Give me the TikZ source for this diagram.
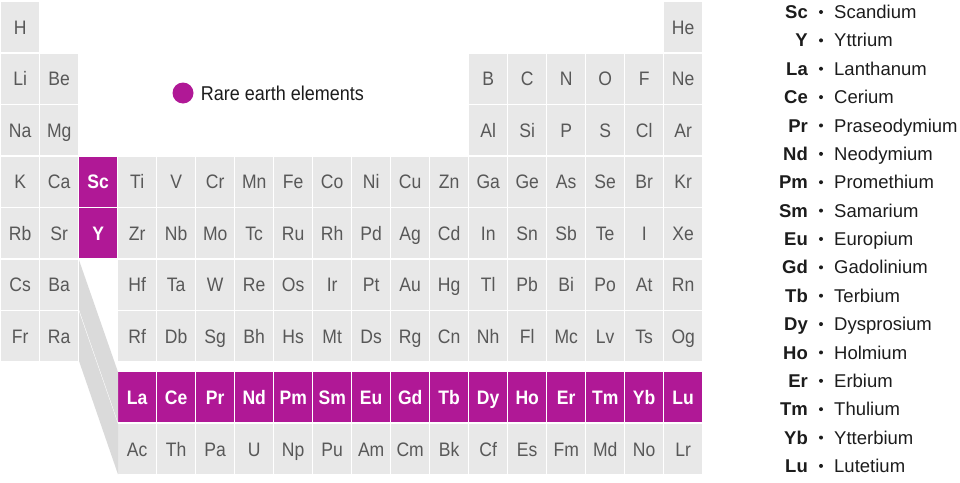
\documentclass[tikz,border=0pt]{standalone}
\usepackage{fontspec}
\setmainfont{Liberation Sans}[FakeStretch=0.9]
\newfontfamily\legfont{Liberation Sans}
\usetikzlibrary{positioning}

\definecolor{cellgray}{RGB}{232,232,232}
\definecolor{bandgray}{RGB}{218,218,218}
\definecolor{rare}{RGB}{176,24,150}
\definecolor{symgray}{RGB}{88,88,88}
\definecolor{ink}{RGB}{28,28,28}

\tikzstyle{elem} = [rectangle, anchor=north west, minimum width=38pt, minimum height=50pt, inner sep=0pt, text height=14pt, text depth=0pt, fill=cellgray, text=symgray, font=\fontsize{19.5}{20}\selectfont]
\tikzstyle{rareelem} = [elem, fill=rare, text=white, font=\fontsize{19.5}{20}\selectfont\bfseries]
\tikzstyle{band} = [fill=bandgray]
\tikzstyle{legsym} = [anchor=base east, inner sep=0pt, text=ink, font=\legfont\fontsize{18.5}{19}\selectfont\bfseries]
\tikzstyle{legdot} = [circle, fill=ink, inner sep=0pt, minimum size=4pt]
\tikzstyle{legname} = [anchor=base west, inner sep=0pt, text=ink, font=\legfont\fontsize{18.5}{19}\selectfont]

\begin{document}
\begin{tikzpicture}[x=1pt, y=-1pt]
\useasboundingbox (0,0) rectangle (960,482);

% Main table
\node (H) [elem] at (1,2) {H};
\node (He) [elem] at (664,2) {He};
\foreach \s/\c in {Li/1,Be/2,B/13,C/14,N/15,O/16,F/17,Ne/18}
  \node (\s) [elem] at ({39*\c-38},53.5) {\s};
\foreach \s/\c in {Na/1,Mg/2,Al/13,Si/14,P/15,S/16,Cl/17,Ar/18}
  \node (\s) [elem] at ({39*\c-38},105) {\s};
\foreach \s [count=\c] in {K,Ca}
  \node (\s) [elem] at ({39*\c-38},156.5) {\s};
\node (Sc) [rareelem] at (79,156.5) {Sc};
\foreach \s [count=\c from 4] in {Ti,V,Cr,Mn,Fe,Co,Ni,Cu,Zn,Ga,Ge,As,Se,Br,Kr}
  \node (\s) [elem] at ({39*\c-38},156.5) {\s};
\foreach \s [count=\c] in {Rb,Sr}
  \node (\s) [elem] at ({39*\c-38},208) {\s};
\node (Y) [rareelem] at (79,208) {Y};
\foreach \s [count=\c from 4] in {Zr,Nb,Mo,Tc,Ru,Rh,Pd,Ag,Cd,In,Sn,Sb,Te,I,Xe}
  \node (\s) [elem] at ({39*\c-38},208) {\s};
\foreach \s [count=\c] in {Cs,Ba}
  \node (\s) [elem] at ({39*\c-38},259.5) {\s};
\foreach \s [count=\c from 4] in {Hf,Ta,W,Re,Os,Ir,Pt,Au,Hg,Tl,Pb,Bi,Po,At,Rn}
  \node (\s) [elem] at ({39*\c-38},259.5) {\s};
\foreach \s [count=\c] in {Fr,Ra}
  \node (\s) [elem] at ({39*\c-38},311) {\s};
\foreach \s [count=\c from 4] in {Rf,Db,Sg,Bh,Hs,Mt,Ds,Rg,Cn,Nh,Fl,Mc,Lv,Ts,Og}
  \node (\s) [elem] at ({39*\c-38},311) {\s};

% Lanthanides and actinides
\foreach \s [count=\c from 4] in {La,Ce,Pr,Nd,Pm,Sm,Eu,Gd,Tb,Dy,Ho,Er,Tm,Yb,Lu}
  \node (\s) [rareelem] at ({39*\c-38},372) {\s};
\foreach \s [count=\c from 4] in {Ac,Th,Pa,U,Np,Pu,Am,Cm,Bk,Cf,Es,Fm,Md,No,Lr}
  \node (\s) [elem] at ({39*\c-38},424) {\s};

% Bands to the f-block
\coordinate (lanslot) at (79,260);
\coordinate (actslot) at (79,311.5);
\fill [band] (lanslot) -- ++(0,49.5) -- (La.south west) -- (La.north west) -- cycle;
\fill [band] (actslot) -- ++(0,49.5) -- (Ac.south west) -- (Ac.north west) -- cycle;

% Key
\node (keydot) [circle, fill=rare, inner sep=0pt, minimum size=21pt] at (183,93) {};
\node (keytext) [right=7pt of keydot, inner sep=0pt, text=ink, font=\fontsize{20}{20}\selectfont] {Rare earth elements};

% Element names
\foreach \s/\n [count=\i from 0] in {Sc/Scandium,Y/Yttrium,La/Lanthanum,Ce/Cerium,Pr/Praseodymium,Nd/Neodymium,Pm/Promethium,Sm/Samarium,Eu/Europium,Gd/Gadolinium,Tb/Terbium,Dy/Dysprosium,Ho/Holmium,Er/Erbium,Tm/Thulium,Yb/Ytterbium,Lu/Lutetium} {
  \node (sym\s) [legsym] at (808,{18.6+28.37*\i}) {\s};
  \node (dot\s) [legdot] at (821,{12+28.37*\i}) {};
  \node (name\s) [legname] at (834,{18.6+28.37*\i}) {\n};
}

\end{tikzpicture}
\end{document}
